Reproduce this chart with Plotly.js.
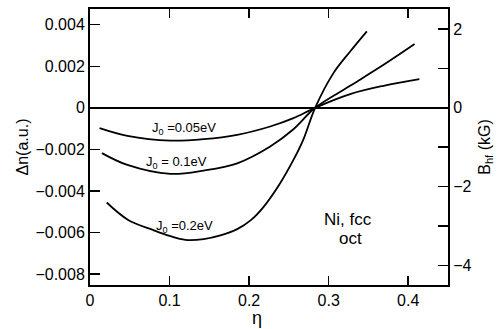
<!DOCTYPE html>
<html>
<head>
<meta charset="utf-8">
<script src="https://cdn.plot.ly/plotly-3.0.1.min.js"></script>
<style>html,body{margin:0;padding:0;background:#fff}#chart{width:498px;height:329px}</style>
</head>
<body>
<div id="chart"></div>
<script>
// J0 = 0.05 eV
var eta05 = [0.012, 0.047, 0.101, 0.143, 0.185, 0.2265, 0.2557, 0.283, 0.327, 0.369, 0.414];
var dn05  = [-0.00098, -0.00135, -0.00158, -0.00151, -0.0013, -0.0009, -0.0005, 0, 0.00066, 0.00106, 0.00138];
// J0 = 0.1 eV
var eta10 = [0.015, 0.047, 0.101, 0.143, 0.185, 0.2265, 0.2557, 0.283, 0.327, 0.369, 0.408];
var dn10  = [-0.00218, -0.00275, -0.00318, -0.00302, -0.00267, -0.00186, -0.00103, 0, 0.00106, 0.00207, 0.00307];
// J0 = 0.2 eV
var eta20 = [0.021, 0.048, 0.079, 0.1, 0.12, 0.143, 0.165, 0.185, 0.203, 0.218, 0.239, 0.2557, 0.268, 0.283, 0.306, 0.327, 0.348];
var dn20  = [-0.00456, -0.0054, -0.00588, -0.00617, -0.00636, -0.00632, -0.00613, -0.00584, -0.00538, -0.00478, -0.00363, -0.00251, -0.00154, 0, 0.00167, 0.00271, 0.00368];

var labels = ['J<sub>0</sub> =0.05eV', 'J<sub>0</sub> = 0.1eV', 'J<sub>0</sub> =0.2eV'];
var labelPos = [[0.1186, -0.00101], [0.109, -0.00265], [0.1186, -0.00571]];

var xTicks = [0, 0.1, 0.2, 0.3, 0.4];
var yTicks = [0.004, 0.002, 0, -0.002, -0.004, -0.006, -0.008];
var y2Ticks = [2, 0, -2, -4];
var y2Minor = [1, -1, -3];

var line = {color: '#000', width: 1.8, shape: 'spline', smoothing: 1};
var traces = [
  {x: eta05, y: dn05, mode: 'lines', line: line, hoverinfo: 'skip'},
  {x: eta10, y: dn10, mode: 'lines', line: line, hoverinfo: 'skip'},
  {x: eta20, y: dn20, mode: 'lines', line: line, hoverinfo: 'skip'},
  {x: [0.2], y: [0], yaxis: 'y2', mode: 'markers', marker: {opacity: 0}, hoverinfo: 'skip'}
];

var font = {family: 'Liberation Sans, Arial, sans-serif', color: '#000'};
function f(s) { return Object.assign({}, font, {size: s}); }
var annotations = labels.map(function (t, i) {
  return {x: labelPos[i][0], y: labelPos[i][1], text: t, showarrow: false,
    xanchor: 'center', yanchor: 'middle', font: f(13)};
});
annotations.push({x: 0.324, y: -0.0054, text: 'Ni, fcc', showarrow: false, font: f(17)});
annotations.push({x: 0.328, y: -0.00631, text: 'oct', showarrow: false, font: f(17)});
annotations.push({x: 0.21, xref: 'x', y: -0.119, yref: 'paper', yanchor: 'middle', text: 'η', showarrow: false, font: f(18)});

var layout = {
  width: 498, height: 329,
  margin: {l: 90, r: 50, t: 9, b: 44},
  paper_bgcolor: '#fff', plot_bgcolor: '#fff',
  showlegend: false,
  font: f(16),
  xaxis: {
    range: [0, 0.45], tickvals: xTicks, ticktext: xTicks.map(String),
    ticks: 'inside', ticklen: 9, tickwidth: 1.5, tickcolor: '#000',
    showline: true, linecolor: '#000', linewidth: 2, mirror: 'ticks',
    showgrid: false, zeroline: false,
    tickfont: f(16)
  },
  yaxis: {
    range: [-0.00853, 0.004757], tickvals: yTicks,
    ticktext: yTicks.map(function (v) { return v === 0 ? '0' : (v < 0 ? '\u2212' + (-v).toFixed(3) : v.toFixed(3)); }),
    ticks: 'inside', ticklen: 10, tickwidth: 1.5, tickcolor: '#000',
    showline: true, linecolor: '#000', linewidth: 2,
    showgrid: false, zeroline: true, zerolinecolor: '#000', zerolinewidth: 1.5,
    tickfont: f(16),
    title: {text: 'Δn(a.u.)', font: f(16), standoff: 3}
  },
  yaxis2: {
    overlaying: 'y', side: 'right',
    range: [-4.5, 2.51], tickvals: y2Ticks,
    ticktext: y2Ticks.map(function (v) { return v < 0 ? '\u2212' + (-v) : String(v); }),
    ticks: 'inside', ticklen: 10, tickwidth: 1.5, tickcolor: '#000',
    minor: {tickvals: y2Minor, ticks: 'inside', ticklen: 10, tickwidth: 1.5, tickcolor: '#000'},
    showline: true, linecolor: '#000', linewidth: 2,
    showgrid: false, zeroline: false,
    tickfont: f(16),
    title: {text: 'B<sub>hf</sub> (kG)', font: f(16), standoff: 8}
  },
  annotations: annotations
};

Plotly.newPlot('chart', traces, layout, {staticPlot: true, displayModeBar: false});
</script>
</body>
</html>
